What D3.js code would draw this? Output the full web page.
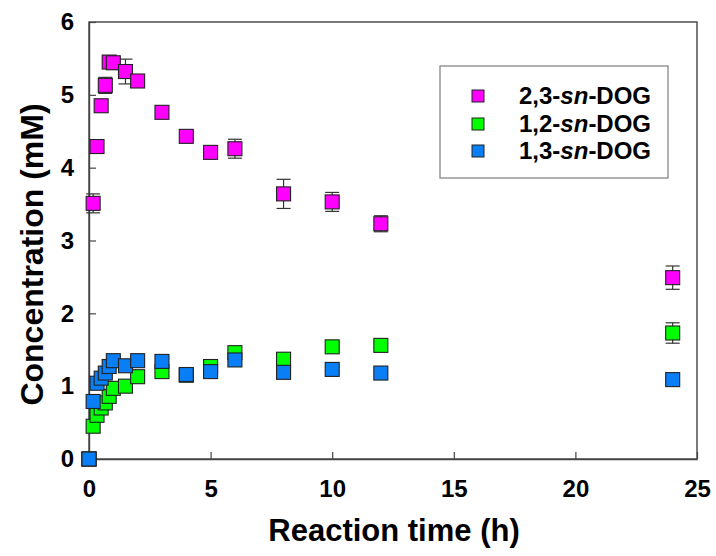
<!DOCTYPE html>
<html>
<head>
<meta charset="utf-8">
<script src="https://cdn.jsdelivr.net/npm/d3@7"></script>
<style>
  html, body { margin: 0; padding: 0; background: #fff; }
  svg { display: block; font-family: "Liberation Sans", Arial, sans-serif; }
</style>
</head>
<body>
<svg id="chart" width="716" height="556"></svg>
<script>
// Sampling times (h)
const times = [0, 0.17, 0.33, 0.5, 0.67, 0.83, 1, 1.5, 2, 3, 4, 5, 6, 8, 10, 12, 24];

// Concentrations (mM) and standard deviations per isomer
const dog23 = [0, 3.51, 4.29, 4.85, 5.13, 5.45, 5.44, 5.32, 5.19, 4.76, 4.43, 4.21, 4.26, 3.64, 3.53, 3.23, 2.49];
const dog23Err = [0, 0.13, 0.04, 0.04, 0.11, 0.04, 0.04, 0.17, 0.04, 0.04, 0.04, 0.04, 0.13, 0.20, 0.13, 0.11, 0.16];

const dog12 = [0, 0.45, 0.60, 0.70, 0.77, 0.86, 0.97, 1.00, 1.13, 1.20, 1.15, 1.27, 1.46, 1.37, 1.54, 1.56, 1.73];
const dog12Err = [0, 0.03, 0.03, 0.03, 0.03, 0.03, 0.03, 0.03, 0.03, 0.03, 0.03, 0.03, 0.05, 0.03, 0.03, 0.03, 0.14];

const dog13 = [0, 0.79, 1.04, 1.11, 1.18, 1.27, 1.35, 1.28, 1.35, 1.34, 1.16, 1.20, 1.36, 1.19, 1.23, 1.18, 1.09];
const dog13Err = [0, 0.03, 0.03, 0.03, 0.03, 0.03, 0.03, 0.03, 0.03, 0.03, 0.03, 0.03, 0.03, 0.03, 0.03, 0.03, 0.03];

const xTicks = [0, 5, 10, 15, 20, 25];
const yTicks = [0, 1, 2, 3, 4, 5, 6];

const seriesNames = ["2,3-sn-DOG", "1,2-sn-DOG", "1,3-sn-DOG"];
const seriesColors = ["#ff00ff", "#00ff00", "#0a7ef5"];

const series = [
  { name: seriesNames[0], color: seriesColors[0], values: dog23, errs: dog23Err },
  { name: seriesNames[1], color: seriesColors[1], values: dog12, errs: dog12Err },
  { name: seriesNames[2], color: seriesColors[2], values: dog13, errs: dog13Err }
];

const W = 716, H = 556;
const margin = { top: 22, right: 19, bottom: 97, left: 89 };
const iw = W - margin.left - margin.right;
const ih = H - margin.top - margin.bottom;

const svg = d3.select("#chart");
const g = svg.append("g").attr("transform", `translate(${margin.left},${margin.top})`);

const x = d3.scaleLinear().domain([0, 25]).range([0, iw]);
const y = d3.scaleLinear().domain([0, 6]).range([ih, 0]);

const axisColor = "#444";

// Frame
g.append("rect")
  .attr("x", 0).attr("y", 0).attr("width", iw).attr("height", ih)
  .attr("fill", "none").attr("stroke", axisColor).attr("stroke-width", 1.4);

// Axes with inward ticks
const xAxis = g.append("g").attr("transform", `translate(0,${ih})`)
  .call(d3.axisBottom(x).tickValues(xTicks).tickFormat(d3.format("d"))
    .tickSizeInner(-7).tickSizeOuter(0).tickPadding(21));
const yAxis = g.append("g")
  .call(d3.axisLeft(y).tickValues(yTicks).tickFormat(d3.format("d"))
    .tickSizeInner(-7).tickSizeOuter(0).tickPadding(15));

[xAxis, yAxis].forEach(a => {
  a.select(".domain").attr("stroke", axisColor).attr("stroke-width", 1.4);
  a.selectAll(".tick line").attr("stroke", axisColor).attr("stroke-width", 1.2);
  a.selectAll(".tick text")
    .attr("fill", "#000")
    .style("font-size", "24px")
    .style("font-weight", "bold")
    .style("font-family", "'Liberation Sans', Arial, sans-serif");
});

// Axis titles
svg.append("text")
  .attr("x", margin.left + iw / 2 + 1).attr("y", 541)
  .attr("text-anchor", "middle")
  .style("font-size", "31px").style("font-weight", "bold")
  .text("Reaction time (h)");

svg.append("text")
  .attr("transform", `translate(43,${margin.top + ih / 2 + 14}) rotate(-90)`)
  .attr("text-anchor", "middle")
  .style("font-size", "32px").style("font-weight", "bold")
  .text("Concentration (mM)");

// Data points with error bars
const ms = 14;
series.forEach(s => {
  const pts = times.map((t, i) => ({ t, v: s.values[i], e: s.errs[i] }));
  const grp = g.append("g");
  const eb = grp.selectAll(".eb").data(pts.filter(d => d.e > 0)).join("g")
    .attr("stroke", "#333").attr("stroke-width", 1.2);
  eb.append("line")
    .attr("x1", d => x(d.t)).attr("x2", d => x(d.t))
    .attr("y1", d => y(d.v + d.e)).attr("y2", d => y(d.v - d.e));
  eb.append("line")
    .attr("x1", d => x(d.t) - ms / 2).attr("x2", d => x(d.t) + ms / 2)
    .attr("y1", d => y(d.v + d.e)).attr("y2", d => y(d.v + d.e));
  eb.append("line")
    .attr("x1", d => x(d.t) - ms / 2).attr("x2", d => x(d.t) + ms / 2)
    .attr("y1", d => y(d.v - d.e)).attr("y2", d => y(d.v - d.e));
  grp.selectAll("rect").data(pts).join("rect")
    .attr("x", d => x(d.t) - ms / 2).attr("y", d => y(d.v) - ms / 2)
    .attr("width", ms).attr("height", ms)
    .attr("fill", s.color).attr("stroke", "#222").attr("stroke-width", 1.1);
});

// Legend
const leg = svg.append("g");
leg.append("rect")
  .attr("x", 440).attr("y", 66).attr("width", 228).attr("height", 112)
  .attr("fill", "#fff").attr("stroke", "#888").attr("stroke-width", 1.3);
const legRows = [96, 124, 151];
series.forEach((s, i) => {
  leg.append("rect")
    .attr("x", 472).attr("y", legRows[i] - 6).attr("width", 12).attr("height", 12)
    .attr("fill", s.color).attr("stroke", "#222").attr("stroke-width", 1);
  const parts = s.name.split("sn");
  const t = leg.append("text")
    .attr("x", 519).attr("y", legRows[i] + 8)
    .style("font-size", "24px").style("font-weight", "bold");
  t.append("tspan").text(parts[0]);
  t.append("tspan").style("font-style", "italic").text("sn");
  t.append("tspan").text(parts[1]);
});
</script>
</body>
</html>
